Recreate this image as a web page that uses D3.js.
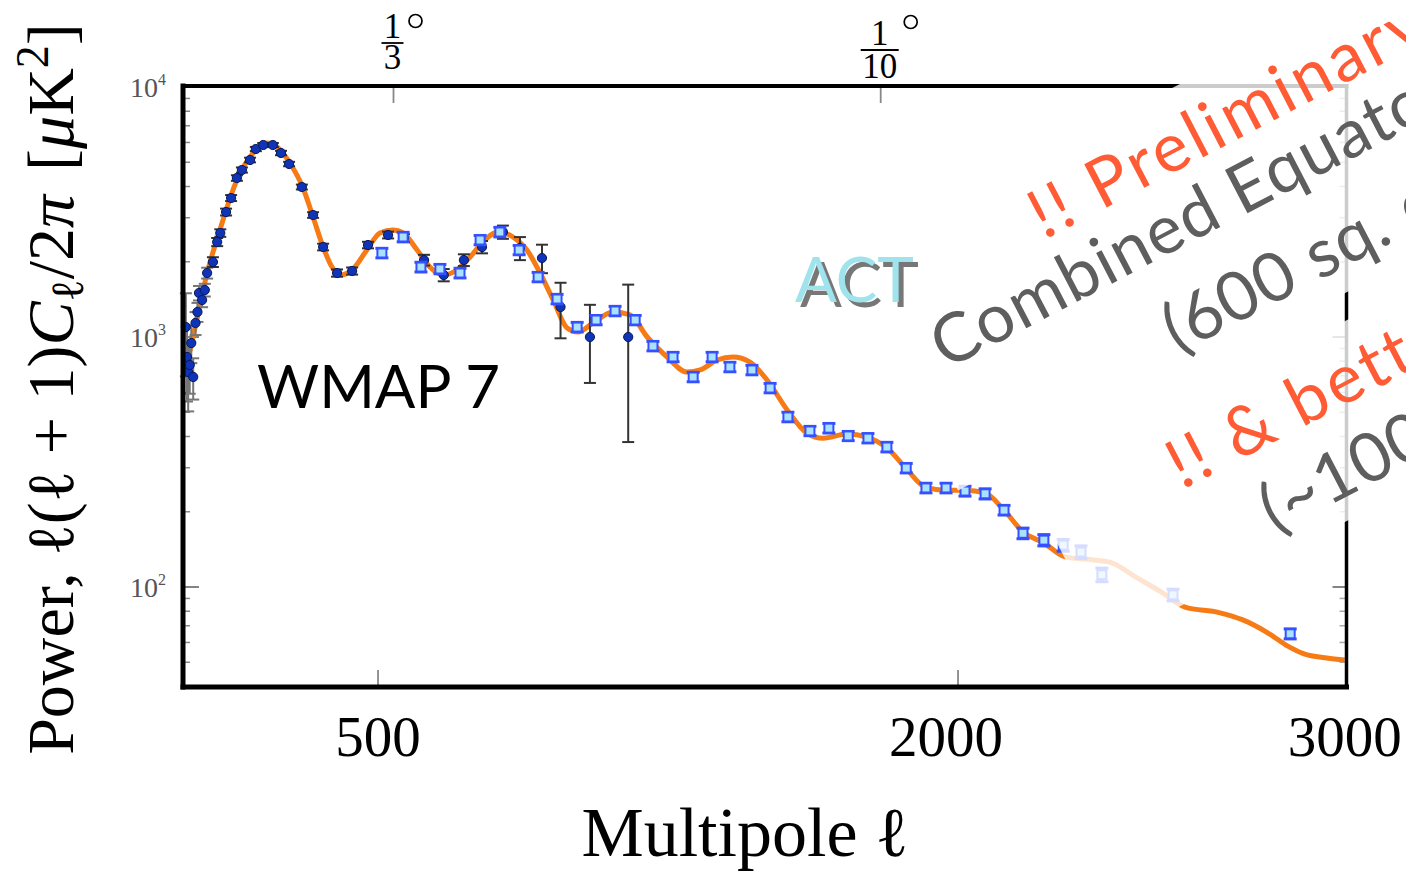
<!DOCTYPE html>
<html><head><meta charset="utf-8">
<script src="https://cdn.jsdelivr.net/npm/d3@7"></script>
<style>body{margin:0;background:#fff;} svg{display:block;}</style>
</head><body>
<svg id="chart" width="1406" height="873"></svg>
<script>
// ---- data ----
const theoryL = [2,6,27,58,91,135,177,213,239,272,306,332,358,381,402,433,471,505,539,565,601,634,668,704,738,771,810,849,885,919,953,989,1017,1056,1108,1152,1196,1247,1299,1333,1377,1418,1462,1506,1558,1609,1651,1713,1764,1816,1865,1915,1969,2018,2070,2119,2168,2222,2277,2357,2398,2458,2528,2587,2675,2735,2805,2853,2895,2954,3000];
const theoryD = [1000,832,1096,1803,2679,4246,5445,5970,5754,4966,3945,3020,2291,1905,1770,1854,2228,2606,2679,2606,2228,1905,1770,1854,2089,2399,2630,2512,2228,1803,1406,1086,1047,1138,1259,1225,1000,832,724,738,809,832,794,673,511,413,394,409,398,360,299,251,244,244,238,203,166,150,132,128,125,110,95,83,79,74,65,58,54,52,51];

const wmapL   = [3,6,9,13,17,22,28,33,37,45,52,58,73,84,92,107,120,135,148,169,184,203,228,249,270,303,332,358,394,433,474,526,567,619,670,722,769,823,867,924,972,1048,1147];
const wmapD   = [1096,832,724,773,946,692,1138,1259,1500,1406,1542,1803,1995,2399,2606,3162,3597,4325,4656,5105,5649,5861,5861,5445,4920,3981,3076,2291,1803,1837,2333,2559,2489,2032,1770,2032,2291,2630,2270,2070,1318,1000,1000];
const wmapErr = [400,280,220,180,160,130,120,110,100,90,90,90,90,90,90,100,100,110,110,110,110,110,110,110,100,90,80,70,60,60,70,80,90,100,100,110,130,160,240,270,330,345,620];

const actL   = [510,565,611,660,712,764,815,865,914,963,1015,1064,1113,1165,1211,1263,1315,1364,1410,1467,1514,1560,1617,1666,1716,1767,1816,1866,1917,1969,2018,2070,2119,2168,2222,2272,2318,2372,2556,2859];
const actD   = [2168,2512,1905,1871,1803,2443,2630,2228,1738,1419,1096,1169,1271,1169,920,832,692,832,759,738,625,479,421,432,402,394,363,299,249,249,242,236,203,164,154,147,138,112,93,65];
const actErr = [95,110,85,80,80,105,115,95,75,62,48,50,55,50,40,36,30,36,33,32,27,21,18,19,17,17,16,13,11,11,11,11,9,8,8,8,8,7,5,3];

const xTickValues = [500, 2000, 3000];
const xTickLabels = ["500", "2000", "3000"];
const topTickL    = [540, 1800];
const topTickDen  = ["3", "10"];
const yTickValues = [1e2, 1e3, 1e4];
const yTickExp    = ["2", "3", "4"];

// ---- scales ----
const svg = d3.select("#chart");
const x = d3.scaleLinear().domain([0, 3000]).range([184.7, 1344.7]);
const y = d3.scaleLog().domain([Math.pow(10, 1.6), 1e4]).range([687, 87]);
const L = 183, R = 1346.5, T = 86, B = 687;
const serif = "'Liberation Serif', 'DejaVu Serif', serif";
const sans = "Lato, 'Open Sans', sans-serif";

// ---- ticks ----
const g = svg.append("g");
const minor = [];
for (let e = 1; e < 4; e++) for (let k = 2; k <= 9; k++) { const v = k * Math.pow(10, e); if (v >= y.domain()[0] && v <= 1e4) minor.push(v); }
g.selectAll(".ymin").data(minor).join("line")
  .attr("x1", L).attr("x2", L + 7).attr("y1", d => y(d)).attr("y2", d => y(d))
  .attr("stroke", "#888").attr("stroke-width", 1.5);
g.selectAll(".ymin2").data(minor).join("line")
  .attr("x1", R).attr("x2", R - 7).attr("y1", d => y(d)).attr("y2", d => y(d))
  .attr("stroke", "#aaa").attr("stroke-width", 1.5);
g.selectAll(".ymaj").data(yTickValues.slice(0, 2)).join("line")
  .attr("x1", L).attr("x2", L + 16).attr("y1", d => y(d)).attr("y2", d => y(d))
  .attr("stroke", "#777").attr("stroke-width", 1.8);
g.selectAll(".ymaj2").data(yTickValues.slice(0, 2)).join("line")
  .attr("x1", R).attr("x2", R - 14).attr("y1", d => y(d)).attr("y2", d => y(d))
  .attr("stroke", "#777").attr("stroke-width", 1.8);
g.selectAll(".xt").data(xTickValues.slice(0, 2)).join("line")
  .attr("x1", d => x(d)).attr("x2", d => x(d)).attr("y1", B).attr("y2", B - 17)
  .attr("stroke", "#888").attr("stroke-width", 1.8);
g.selectAll(".tt").data(topTickL).join("line")
  .attr("x1", d => x(d)).attr("x2", d => x(d)).attr("y1", T).attr("y2", T + 17)
  .attr("stroke", "#888").attr("stroke-width", 1.8);

// ---- theory curve ----
const line = d3.line().x(d => x(d[0])).y(d => y(d[1])).curve(d3.curveMonotoneX);
svg.append("path").datum(theoryL.map((l, i) => [l, theoryD[i]]))
  .attr("d", line).attr("fill", "none").attr("stroke", "#f77b14").attr("stroke-width", 5)
  .attr("stroke-linejoin", "round");

// ---- WMAP points ----
const wmap = wmapL.map((l, i) => ({l, d: wmapD[i], e: wmapErr[i]}));
const wg = svg.append("g");
const wcol = d => d.l < 60 ? "#777" : "#333";
wg.selectAll(".we").data(wmap).join("line")
  .attr("x1", d => x(d.l)).attr("x2", d => x(d.l))
  .attr("y1", d => y(d.d + d.e)).attr("y2", d => y(Math.max(d.d - d.e, 45)))
  .attr("stroke", wcol).attr("stroke-width", 2);
wg.selectAll(".wc1").data(wmap).join("line")
  .attr("x1", d => x(d.l) - 6).attr("x2", d => x(d.l) + 6)
  .attr("y1", d => y(d.d + d.e)).attr("y2", d => y(d.d + d.e))
  .attr("stroke", wcol).attr("stroke-width", 2);
wg.selectAll(".wc2").data(wmap).join("line")
  .attr("x1", d => x(d.l) - 6).attr("x2", d => x(d.l) + 6)
  .attr("y1", d => y(Math.max(d.d - d.e, 45))).attr("y2", d => y(Math.max(d.d - d.e, 45)))
  .attr("stroke", wcol).attr("stroke-width", 2);
wg.selectAll(".wp").data(wmap).join("circle")
  .attr("cx", d => x(d.l)).attr("cy", d => y(d.d)).attr("r", 4.6)
  .attr("fill", "#1034b8").attr("stroke", "#08185a").attr("stroke-width", 1);

// ---- ACT points ----
const act = actL.map((l, i) => ({l, d: actD[i], e: actErr[i]}));
const ag = svg.append("g");
ag.selectAll(".ae").data(act).join("line")
  .attr("x1", d => x(d.l)).attr("x2", d => x(d.l))
  .attr("y1", d => y(d.d + d.e)).attr("y2", d => y(d.d - d.e))
  .attr("stroke", "#3650ff").attr("stroke-width", 2.5);
ag.selectAll(".ac1").data(act).join("line")
  .attr("x1", d => x(d.l) - 6.5).attr("x2", d => x(d.l) + 6.5)
  .attr("y1", d => y(d.d + d.e)).attr("y2", d => y(d.d + d.e))
  .attr("stroke", "#3650ff").attr("stroke-width", 3);
ag.selectAll(".ac2").data(act).join("line")
  .attr("x1", d => x(d.l) - 6.5).attr("x2", d => x(d.l) + 6.5)
  .attr("y1", d => y(d.d - d.e)).attr("y2", d => y(d.d - d.e))
  .attr("stroke", "#3650ff").attr("stroke-width", 3);
ag.selectAll(".ap").data(act).join("rect")
  .attr("x", d => x(d.l) - 4.5).attr("y", d => y(d.d) - 4.5).attr("width", 9).attr("height", 9)
  .attr("fill", "#a8e2ff").attr("stroke", "#3650ff").attr("stroke-width", 2);

// ---- frame ----
const fr = svg.append("g").attr("stroke", "#000").attr("stroke-linecap", "square");
fr.append("line").attr("x1", L).attr("x2", L).attr("y1", T).attr("y2", B).attr("stroke-width", 5);
fr.append("line").attr("x1", L).attr("x2", R).attr("y1", B).attr("y2", B).attr("stroke-width", 5);
fr.append("line").attr("x1", L).attr("x2", R).attr("y1", T).attr("y2", T).attr("stroke-width", 4);
fr.append("line").attr("x1", R).attr("x2", R).attr("y1", T).attr("y2", B).attr("stroke-width", 3.5);

// ---- translucent annotation panels ----
const panels = [
  [[839.6,257.6],[958,490.4],[1430,249.7],[1430,-43.5]],
  [[1026.7,483.5],[1108,643],[1430,478.5],[1430,277.7]]
];
svg.selectAll(".panel").data(panels).join("polygon")
  .attr("points", d => d.map(p => p.join(",")).join(" "))
  .attr("fill", "#fff").attr("opacity", 0.8);

// ---- tick labels ----
const xLabelShift = [0, -12, 0];
svg.selectAll(".xl").data(xTickValues).join("text")
  .attr("x", (d, i) => x(d) + xLabelShift[i]).attr("y", 756).attr("text-anchor", "middle")
  .attr("font-family", serif).attr("font-size", 57).attr("fill", "#000")
  .text((d, i) => xTickLabels[i]);

const yl = svg.selectAll(".yl").data(yTickValues).join("text")
  .attr("x", 130).attr("y", d => y(d) + 10)
  .attr("font-family", serif).attr("font-size", 28).attr("fill", "#555");
yl.append("tspan").text("10");
yl.append("tspan").attr("font-size", 16).attr("dy", -12).text((d, i) => yTickExp[i]);

// top fraction labels
const topY = [[38, 43, 69, 21], [45, 50, 78, 22]];
topTickL.forEach((l, i) => {
  const cx = x(l) - 1;
  const [nb, bar, db, deg] = topY[i];
  const tg = svg.append("g");
  tg.append("text").attr("x", cx).attr("y", nb).attr("text-anchor", "middle")
    .attr("font-family", serif).attr("font-size", 35).text("1");
  tg.append("text").attr("x", cx).attr("y", db).attr("text-anchor", "middle")
    .attr("font-family", serif).attr("font-size", 35).text(topTickDen[i]);
  const half = topTickDen[i].length > 1 ? 19 : 11;
  tg.append("line").attr("x1", cx - half).attr("x2", cx + half).attr("y1", bar).attr("y2", bar)
    .attr("stroke", "#000").attr("stroke-width", 1.8);
  tg.append("circle").attr("cx", cx + half + 12).attr("cy", deg).attr("r", 6.5)
    .attr("fill", "none").attr("stroke", "#000").attr("stroke-width", 1.7);
});

// ---- axis titles ----
svg.append("text").attr("x", 745).attr("y", 856).attr("text-anchor", "middle")
  .attr("font-family", serif).attr("font-size", 70).text("Multipole ℓ");

const yt = svg.append("text").attr("transform", "translate(73,389) rotate(-90)")
  .attr("text-anchor", "middle").attr("font-family", serif).attr("font-size", 66);
yt.append("tspan").text("Power, ℓ(ℓ + 1)");
yt.append("tspan").attr("font-style", "italic").text("C");
yt.append("tspan").attr("font-size", 46).attr("dy", 10).text("ℓ");
yt.append("tspan").attr("dy", -10).text("/2");
yt.append("tspan").attr("font-style", "italic").text("π");
yt.append("tspan").attr("dx", 24).text("[");
yt.append("tspan").attr("font-style", "italic").text("μ");
yt.append("tspan").text("K");
yt.append("tspan").attr("font-size", 46).attr("dy", -25).text("2");
yt.append("tspan").attr("dy", 25).text("]");

// ---- in-plot labels ----
svg.append("text").attr("x", 257).attr("y", 408).attr("font-family", sans)
  .attr("font-size", 60).attr("fill", "#000").text("WMAP 7");
svg.append("text").attr("x", 800).attr("y", 307).attr("font-family", sans)
  .attr("font-size", 62).attr("fill", "#777").text("ACT");
svg.append("text").attr("x", 795).attr("y", 302).attr("font-family", sans)
  .attr("font-size", 62).attr("fill", "#9fe3ec").text("ACT");

const notes = [
  {t: "!! Preliminary !!", x: 1044, y: 240, c: "#ff5b35", ls: 3.5},
  {t: "Combined Equatorial", x: 946, y: 370, c: "#5e5e5e", ls: 1.2},
  {t: "(600 sq. deg)", x: 1178, y: 354, c: "#5e5e5e", ls: 1},
  {t: "!! & better !!", x: 1182, y: 490, c: "#ff5b35", ls: 3},
  {t: "(~1000 sq. deg)", x: 1275, y: 534, c: "#5e5e5e", ls: 1}
];
svg.selectAll(".note").data(notes).join("text")
  .attr("transform", d => `translate(${d.x},${d.y}) rotate(-27.5)`)
  .attr("font-family", sans).attr("font-size", 68).attr("fill", d => d.c)
  .attr("letter-spacing", d => d.ls)
  .text(d => d.t);
</script>
</body></html>
